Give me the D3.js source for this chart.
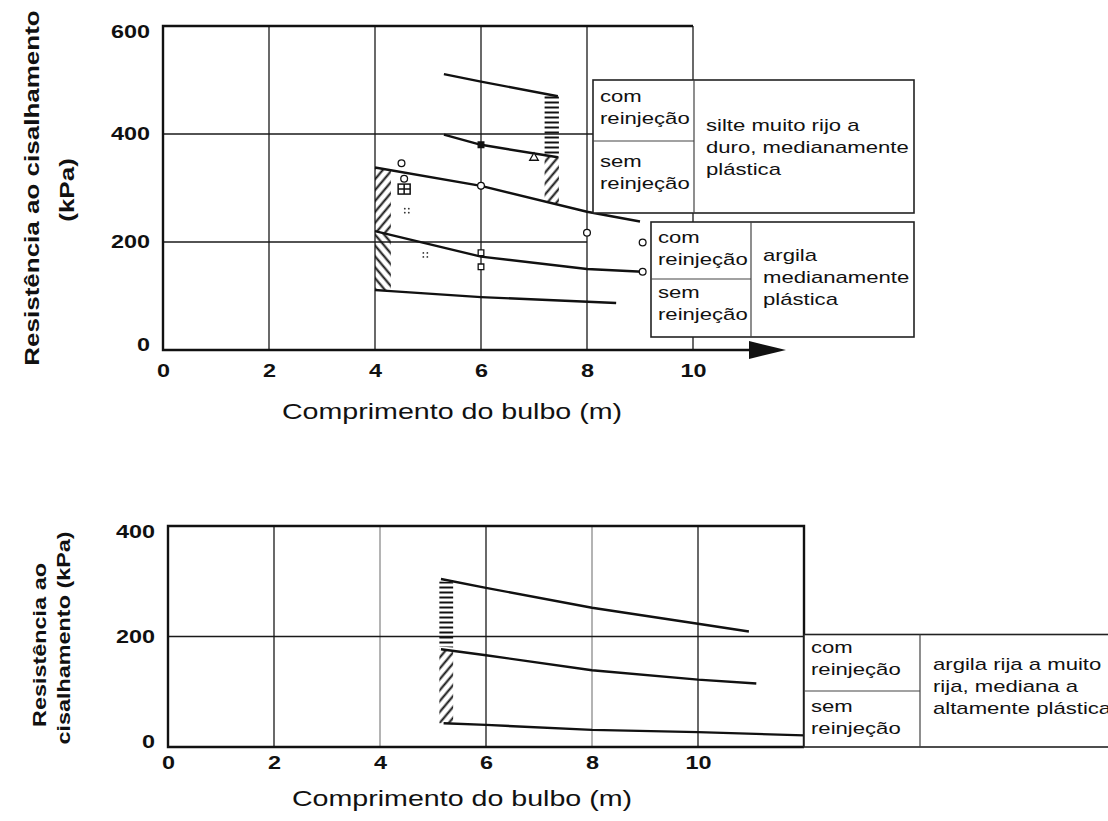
<!DOCTYPE html>
<html>
<head>
<meta charset="UTF-8">
<title>Resistência ao cisalhamento x comprimento do bulbo</title>
<script src="https://d3js.org/d3.v7.min.js"></script>
<style>
  body { margin: 0; background: #fff; }
  svg { display: block; font-family: "Liberation Sans", Arial, sans-serif; }
  .grid { stroke: #1a1a1a; stroke-width: 1.3; }
  .grid.light { stroke: #8c8c8c; }
  .frame { stroke: #111; stroke-width: 2.4; fill: none; }
  .curve { fill: none; stroke: #111; stroke-width: 2.4; }
  .tick text { font-weight: bold; font-size: 18px; fill: #111; }
  .box { fill: #fff; stroke: #222; stroke-width: 1.6; }
  .sep { stroke: #444; stroke-width: 1.2; }
  .leg { font-size: 17px; fill: #111; }
  .title { font-size: 22px; fill: #111; }
  .ytitle { font-weight: bold; fill: #111; }
</style>
</head>
<body>
<svg width="1108" height="821"></svg>
<script>
// ---- valores ----
const xTicksTop = [0, 2, 4, 6, 8, 10];
const yTicksTop = [0, 200, 400, 600];
const xTicksBot = [0, 2, 4, 6, 8, 10];
const yTicksBot = [0, 200, 400];

// gráfico superior: [comprimento (m), resistência (kPa)]
const silteUpper = [[5.3, 511], [6, 497], [7.45, 470]];
const silteMid   = [[5.3, 399], [6, 380], [7.45, 357]];
const silteLower = [[4, 338], [6, 304], [8, 256], [9, 238]];
const argilaMid  = [[4, 220], [6, 173], [8, 150], [9.05, 145]];
const argilaLow  = [[4, 111], [4.3, 109], [6, 98], [8.55, 87]];

// faixas hachuradas (topo/base nas duas bordas)
const hatchTop = [
  {x0: 7.2, x1: 7.47, hi: [474, 470], lo: [359, 357], kind: "h"},
  {x0: 7.2, x1: 7.47, hi: [359, 357], lo: [275, 269], kind: "f"},
  {x0: 4, x1: 4.3, hi: [338, 333], lo: [220, 213], kind: "f"},
  {x0: 4, x1: 4.3, hi: [220, 213], lo: [111, 109], kind: "b"}
];

// pontos de ensaio
const pointsTop = [
  {x: 4.5, v: 346, s: "circle"},
  {x: 4.55, v: 317, s: "circle"},
  {x: 4.55, v: 298, s: "grid"},
  {x: 4.6, v: 258, s: "dots"},
  {x: 4.95, v: 176, s: "dots"},
  {x: 6, v: 380, s: "filled"},
  {x: 7.0, v: 356, s: "triangle"},
  {x: 6, v: 304, s: "circle"},
  {x: 6, v: 180, s: "square"},
  {x: 6, v: 154, s: "square"},
  {x: 8, v: 217, s: "circle"},
  {x: 9.05, v: 199, s: "circle"},
  {x: 9.05, v: 145, s: "circle"}
];

// gráfico inferior
const rijaUpper = [[5.15, 304], [6, 288], [8, 252], [10, 223], [10.96, 209]];
const rijaMid   = [[5.15, 177], [6, 166], [8, 139], [10, 122], [11.1, 115]];
const rijaLow   = [[5.2, 43], [6, 40], [8, 31], [10, 27], [12, 21]];
const hatchBot = [
  {x0: 5.12, x1: 5.38, hi: [300, 298], lo: [182, 180], kind: "h"},
  {x0: 5.12, x1: 5.38, hi: [178, 176], lo: [43, 43], kind: "f"}
];

// textos das legendas
const stateCom = ["com", "reinjeção"];
const stateSem = ["sem", "reinjeção"];
const soilTop1 = ["silte muito rijo a", "duro, medianamente", "plástica"];
const soilTop2 = ["argila", "medianamente", "plástica"];
const soilBot  = ["argila rija a muito", "rija, mediana a", "altamente plástica"];

const svg = d3.select("svg");
const defs = svg.append("defs");

// hachuras
defs.append("pattern").attr("id", "hatch-h")
    .attr("patternUnits", "userSpaceOnUse").attr("width", 10).attr("height", 5)
  .append("line").attr("x1", 0).attr("x2", 10).attr("y1", 2.5).attr("y2", 2.5)
    .attr("stroke", "#111").attr("stroke-width", 2);
[["hatch-f", 40], ["hatch-b", -40]].forEach(([id, rot]) => {
  defs.append("pattern").attr("id", id)
      .attr("patternUnits", "userSpaceOnUse").attr("width", 7).attr("height", 7)
      .attr("patternTransform", `rotate(${rot})`)
    .append("line").attr("x1", 3.5).attr("x2", 3.5).attr("y1", 0).attr("y2", 7)
      .attr("stroke", "#111").attr("stroke-width", 2);
});

// estica o texto na horizontal como no original digitalizado
function stretch(sel, k = 1.3) {
  sel.each(function () {
    const w = this.getComputedTextLength();
    d3.select(this).attr("textLength", w * k).attr("lengthAdjust", "spacingAndGlyphs");
  });
}

function drawCurves(g, series, x, y) {
  const line = d3.line().x(d => x(d[0])).y(d => y(d[1]));
  g.selectAll(null).data(series).join("path").attr("class", "curve").attr("d", line);
}

function drawHatches(g, hatches, x, y) {
  const area = d3.area().x(d => x(d.x)).y0(d => y(d.lo)).y1(d => y(d.hi));
  g.selectAll(null).data(hatches).join("path")
    .attr("d", d => area([{x: d.x0, hi: d.hi[0], lo: d.lo[0]}, {x: d.x1, hi: d.hi[1], lo: d.lo[1]}]))
    .attr("fill", d => `url(#hatch-${d.kind})`);
}

function drawAxes(g, x, y, xTicks, yTicks, pad) {
  const ymax = d3.max(yTicks);
  g.append("g").attr("transform", `translate(${x.range()[0]},0)`)
    .call(d3.axisLeft(y).tickValues(yTicks).tickSize(0).tickPadding(13))
    .call(a => a.select(".domain").remove())
    .call(a => a.selectAll("text").attr("dy", d => d === 0 ? "0.02em" : d === ymax ? "0.62em" : "0.32em"))
    .call(a => stretch(a.selectAll("text")));
  g.append("g").attr("transform", `translate(0,${y.range()[0]})`)
    .call(d3.axisBottom(x).tickValues(xTicks).tickSize(0).tickPadding(pad).tickFormat(d3.format("d")))
    .call(a => a.select(".domain").remove())
    .call(a => stretch(a.selectAll("text")));
}

function drawPoints(g, pts, x, y) {
  const sym = {circle: d3.symbolCircle, square: d3.symbolSquare, filled: d3.symbolSquare, triangle: d3.symbolTriangle};
  g.selectAll(null).data(pts.filter(d => sym[d.s])).join("path")
    .attr("transform", d => `translate(${x(d.x)},${y(d.v)})`)
    .attr("d", d => d3.symbol(sym[d.s], d.s === "circle" ? 36 : 32)())
    .attr("fill", d => d.s === "filled" ? "#111" : "#fff")
    .attr("stroke", "#111").attr("stroke-width", 1.3);
  const grid = g.selectAll(null).data(pts.filter(d => d.s === "grid")).join("g")
    .attr("transform", d => `translate(${x(d.x)},${y(d.v)})`);
  grid.append("rect").attr("x", -6).attr("y", -5).attr("width", 12).attr("height", 10)
    .attr("fill", "#fff").attr("stroke", "#111").attr("stroke-width", 1.5);
  grid.append("path").attr("d", "M0,-5V5M-6,0H6").attr("stroke", "#111").attr("stroke-width", 1.5);
  const dots = g.selectAll(null).data(pts.filter(d => d.s === "dots")).join("g")
    .attr("transform", d => `translate(${x(d.x)},${y(d.v)})`);
  dots.selectAll("circle").data([[-2, -2], [2, -2], [-2, 2], [2, 2]]).join("circle")
    .attr("cx", d => d[0]).attr("cy", d => d[1]).attr("r", 0.9).attr("fill", "#333");
}

function legendLines(g, lines, x, y0, step) {
  g.append("text").attr("class", "leg")
    .selectAll("tspan").data(lines).join("tspan")
    .attr("x", x).attr("y", (d, i) => y0 + i * step).text(d => d);
  stretch(g.selectAll("tspan"));
}

function stateBox(g, x0, x1, xm, y0, ym, y1, soil, soilX, soilY, base) {
  g.append("rect").attr("class", "box").attr("x", x0).attr("y", y0).attr("width", x1 - x0).attr("height", y1 - y0);
  g.append("line").attr("class", "sep").attr("x1", xm).attr("x2", xm).attr("y1", y0).attr("y2", y1);
  g.append("line").attr("class", "sep").attr("x1", x0).attr("x2", xm).attr("y1", ym).attr("y2", ym);
  legendLines(g.append("g"), stateCom, x0 + 7, base[0], 22);
  legendLines(g.append("g"), stateSem, x0 + 7, base[1], 22);
  legendLines(g.append("g"), soil, soilX, soilY, 22);
}

// ================= gráfico superior =================
const xT = d3.scaleLinear().domain([0, 10]).range([163, 693]);
const yT = d3.scaleLinear().domain([0, 600]).range([350, 26]);
const gT = svg.append("g");

gT.selectAll(null).data([2, 4, 6, 8, 10]).join("line").attr("class", "grid")
  .attr("x1", d => xT(d)).attr("x2", d => xT(d)).attr("y1", yT(600)).attr("y2", yT(0));
gT.append("line").attr("class", "grid").attr("x1", xT(0)).attr("x2", xT(10)).attr("y1", yT(400)).attr("y2", yT(400));
gT.append("line").attr("class", "grid").attr("x1", xT(0)).attr("x2", xT(8)).attr("y1", yT(200)).attr("y2", yT(200));
gT.append("path").attr("class", "frame")
  .attr("d", `M${xT(10)},${yT(600)}H${xT(0)}V${yT(0)}H${xT(10) + 58}`);
gT.append("path").attr("fill", "#111")
  .attr("d", `M${xT(10) + 56},${yT(0) - 9}L${xT(10) + 93},${yT(0)}L${xT(10) + 56},${yT(0) + 9}Z`);

drawHatches(gT, hatchTop, xT, yT);
drawCurves(gT, [silteUpper, silteMid, silteLower, argilaMid, argilaLow], xT, yT);
drawPoints(gT, pointsTop, xT, yT);
drawAxes(gT, xT, yT, xTicksTop, yTicksTop, 14);

stateBox(gT.append("g"), 593, 914, 694, 80, 141, 213, soilTop1, 706, 131, [102, 167]);
stateBox(gT.append("g"), 651, 914, 751, 222, 279, 337, soilTop2, 763, 261, [243, 298]);

gT.append("text").attr("class", "ytitle").attr("font-size", 20)
  .attr("transform", "translate(32,188) rotate(-90)")
  .attr("text-anchor", "middle").attr("dominant-baseline", "central")
  .text("Resistência ao cisalhamento").call(stretch);
gT.append("text").attr("class", "ytitle").attr("font-size", 20)
  .attr("transform", "translate(67,190) rotate(-90)")
  .attr("text-anchor", "middle").attr("dominant-baseline", "central")
  .text("(kPa)").call(stretch);
gT.append("text").attr("class", "title").attr("x", 452).attr("y", 419)
  .attr("text-anchor", "middle").text("Comprimento do bulbo (m)").call(stretch);

// ================= gráfico inferior =================
const xB = d3.scaleLinear().domain([0, 12]).range([168, 804]);
const yB = d3.scaleLinear().domain([0, 400]).range([747, 526]);
const gB = svg.append("g");

gB.selectAll(null).data([2, 4, 6, 8, 10]).join("line")
  .attr("class", d => d % 4 === 0 ? "grid light" : "grid")
  .attr("x1", d => xB(d)).attr("x2", d => xB(d)).attr("y1", yB(400)).attr("y2", yB(0));
gB.append("line").attr("class", "grid").attr("x1", xB(0)).attr("x2", xB(12)).attr("y1", yB(200)).attr("y2", yB(200));
gB.append("path").attr("class", "frame")
  .attr("d", `M${xB(12)},${yB(0)}V${yB(400)}H${xB(0)}V${yB(0)}H${xB(12)}`);

drawHatches(gB, hatchBot, xB, yB);
drawCurves(gB, [rijaUpper, rijaMid, rijaLow], xB, yB);
drawAxes(gB, xB, yB, xTicksBot, yTicksBot, 9);

stateBox(gB.append("g"), xB(12), 1130, 920, yB(200) - 2, 691, yB(0), soilBot, 933, 670, [653, 712]);

gB.append("text").attr("class", "ytitle").attr("font-size", 18)
  .attr("transform", "translate(40,645) rotate(-90)")
  .attr("text-anchor", "middle").attr("dominant-baseline", "central")
  .text("Resistência ao").call(stretch);
gB.append("text").attr("class", "ytitle").attr("font-size", 18)
  .attr("transform", "translate(64,638) rotate(-90)")
  .attr("text-anchor", "middle").attr("dominant-baseline", "central")
  .text("cisalhamento (kPa)").call(stretch);
gB.append("text").attr("class", "title").attr("x", 462).attr("y", 806)
  .attr("text-anchor", "middle").text("Comprimento do bulbo (m)").call(stretch);
</script>
</body>
</html>
